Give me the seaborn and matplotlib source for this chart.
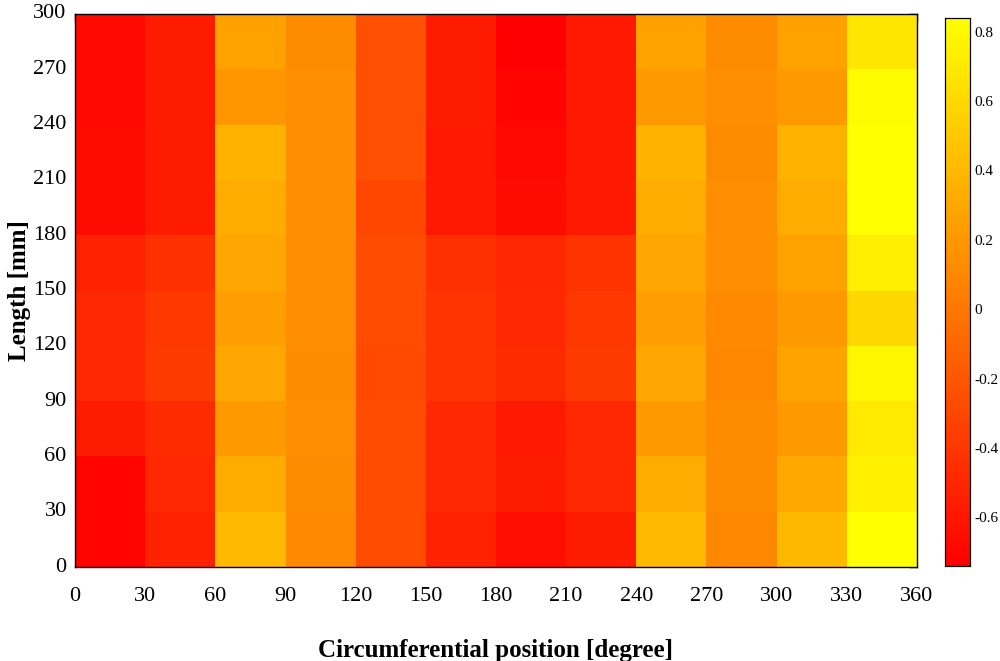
import numpy as np
import pandas as pd
import seaborn as sns
import matplotlib.pyplot as plt

# strain-like values, rows from 0 mm (bottom) up to 300 mm
angles = [0, 30, 60, 90, 120, 150, 180, 210, 240, 270, 300, 330, 360]
lengths = [0, 30, 60, 90, 120, 150, 180, 210, 240, 270, 300]
row_0_30 = [-0.72, -0.53, 0.41, 0.11, -0.27, -0.53, -0.65, -0.57, 0.41, 0.10, 0.40, 0.84]
row_30_60 = [-0.72, -0.49, 0.32, 0.13, -0.27, -0.49, -0.57, -0.49, 0.32, 0.13, 0.30, 0.75]
row_60_90 = [-0.57, -0.47, 0.21, 0.14, -0.27, -0.49, -0.58, -0.49, 0.21, 0.13, 0.21, 0.70]
row_90_120 = [-0.49, -0.38, 0.29, 0.13, -0.28, -0.41, -0.47, -0.38, 0.29, 0.10, 0.27, 0.78]
row_120_150 = [-0.49, -0.39, 0.24, 0.14, -0.27, -0.41, -0.49, -0.39, 0.24, 0.11, 0.21, 0.59]
row_150_180 = [-0.53, -0.44, 0.29, 0.14, -0.27, -0.44, -0.50, -0.42, 0.29, 0.14, 0.26, 0.73]
row_180_210 = [-0.66, -0.57, 0.32, 0.14, -0.30, -0.58, -0.66, -0.58, 0.32, 0.14, 0.32, 0.84]
row_210_240 = [-0.66, -0.57, 0.37, 0.14, -0.25, -0.58, -0.69, -0.58, 0.37, 0.13, 0.37, 0.84]
row_240_270 = [-0.68, -0.57, 0.19, 0.14, -0.25, -0.57, -0.71, -0.58, 0.21, 0.14, 0.21, 0.81]
row_270_300 = [-0.68, -0.57, 0.26, 0.13, -0.25, -0.57, -0.74, -0.58, 0.26, 0.13, 0.26, 0.68]
cbar_ticks = [-0.6, -0.4, -0.2, 0, 0.2, 0.4, 0.6, 0.8]
cbar_labels = ['-0.6', '-0.4', '-0.2', '0', '0.2', '0.4', '0.6', '0.8']

rows = [row_0_30, row_30_60, row_60_90, row_90_120, row_120_150,
        row_150_180, row_180_210, row_210_240, row_240_270, row_270_300]
df = pd.DataFrame(rows, index=lengths[:-1], columns=angles[:-1])

sns.set_theme(style='white')
plt.rcParams['font.family'] = ['Liberation Serif', 'DejaVu Serif']
plt.rcParams['axes.unicode_minus'] = False
for k in ['text.color', 'axes.labelcolor', 'xtick.color', 'ytick.color']:
    plt.rcParams[k] = 'black'

fig = plt.figure(figsize=(10, 6.61), dpi=100)
ax = fig.add_axes([0.075, 0.142, 0.842, 0.837])
cax = fig.add_axes([0.945, 0.144, 0.025, 0.829])

sns.heatmap(df, cmap='autumn', vmin=-0.74, vmax=0.84, ax=ax, cbar_ax=cax)
ax.invert_yaxis()

ax.set_xticks(np.arange(len(angles)))
ax.set_xticklabels([str(a) for a in angles], rotation=0, fontsize=16)
ax.set_yticks(np.arange(len(lengths)))
ax.set_yticklabels([str(l) for l in lengths], rotation=0, fontsize=16)
ax.tick_params(direction='in', top=True, right=True, length=6, width=1,
               color='black')
ax.tick_params(axis='x', pad=14)
ax.tick_params(axis='y', pad=6)
for s in ax.spines.values():
    s.set_visible(True)
    s.set_color('black')
    s.set_linewidth(1)

ax.set_xlabel('Circumferential position [degree]', fontsize=18, fontweight='bold', labelpad=24)
ax.set_ylabel('Length [mm]', fontsize=18, fontweight='bold', labelpad=2)

cax.set_yticks(cbar_ticks)
cax.set_yticklabels(cbar_labels, fontsize=11)
cax.tick_params(direction='in', length=4, width=0.8, color='black', pad=3)
for s in cax.spines.values():
    s.set_visible(True)
    s.set_color('black')
    s.set_linewidth(0.8)

fig.savefig('out.png', dpi=100)
